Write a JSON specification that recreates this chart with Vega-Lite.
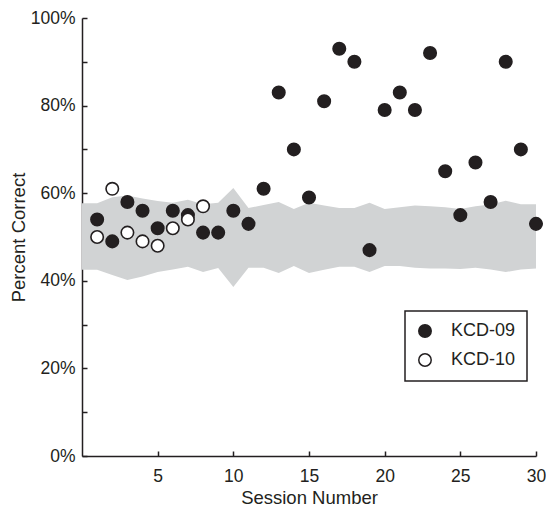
{
  "$schema": "https://vega.github.io/schema/vega-lite/v6.json",
  "width": 454,
  "height": 438,
  "autosize": {"type": "none"},
  "padding": {"left": 82, "top": 18, "right": 10, "bottom": 55},
  "config": {
    "view": {"stroke": null},
    "font": "Liberation Sans",
    "axis": {
      "grid": false,
      "domainColor": "#231f20",
      "tickColor": "#231f20",
      "domainWidth": 1.5,
      "tickWidth": 1.5,
      "tickSize": -5,
      "labelColor": "#231f20",
      "titleColor": "#231f20",
      "labelFontSize": 17.5,
      "titleFontSize": 18.5,
      "titleFontWeight": "normal",
      "labelFont": "Liberation Sans",
      "titleFont": "Liberation Sans"
    },
    "legend": {
      "orient": "none",
      "legendX": 323,
      "legendY": 293,
      "strokeColor": "#231f20",
      "strokeWidth": 1.5,
      "fillColor": "#ffffff",
      "padding": 11,
      "labelFontSize": 18,
      "labelFont": "Liberation Sans",
      "labelColor": "#231f20",
      "labelOffset": 17,
      "symbolSize": 155,
      "symbolType": "circle",
      "symbolStrokeColor": "#231f20",
      "symbolStrokeWidth": 1.5,
      "rowPadding": 9
    }
  },
  "datasets": {
    "band": [
      {"session": 0, "upper": 57.7, "lower": 42.5},
      {"session": 1, "upper": 57.7, "lower": 42.5},
      {"session": 2, "upper": 59.1, "lower": 41.3},
      {"session": 3, "upper": 59.5, "lower": 40.2},
      {"session": 4, "upper": 58.8, "lower": 41.0},
      {"session": 5, "upper": 58.2, "lower": 42.0},
      {"session": 6, "upper": 57.8, "lower": 42.6},
      {"session": 7, "upper": 58.5, "lower": 43.2},
      {"session": 8, "upper": 57.5, "lower": 42.0},
      {"session": 9, "upper": 57.8, "lower": 42.9},
      {"session": 10, "upper": 61.2, "lower": 38.6},
      {"session": 11, "upper": 56.6, "lower": 43.0},
      {"session": 12, "upper": 57.3, "lower": 43.0},
      {"session": 13, "upper": 58.0, "lower": 41.8},
      {"session": 14, "upper": 56.4, "lower": 43.4},
      {"session": 15, "upper": 57.8, "lower": 41.8},
      {"session": 16, "upper": 57.2, "lower": 42.5},
      {"session": 17, "upper": 56.6, "lower": 43.2},
      {"session": 18, "upper": 56.6, "lower": 43.2},
      {"session": 19, "upper": 57.8, "lower": 42.0},
      {"session": 20, "upper": 56.4, "lower": 43.4},
      {"session": 21, "upper": 56.8, "lower": 43.4},
      {"session": 22, "upper": 57.2, "lower": 43.0},
      {"session": 23, "upper": 57.0, "lower": 42.8},
      {"session": 24, "upper": 56.8, "lower": 42.8},
      {"session": 25, "upper": 56.4, "lower": 42.7},
      {"session": 26, "upper": 57.0, "lower": 43.0},
      {"session": 27, "upper": 57.4, "lower": 42.6},
      {"session": 28, "upper": 58.3, "lower": 42.0},
      {"session": 29, "upper": 57.5, "lower": 42.6},
      {"session": 30, "upper": 57.5, "lower": 42.8}
    ],
    "points": [
      {"subject": "KCD-09", "session": 1, "pct": 54},
      {"subject": "KCD-09", "session": 2, "pct": 49},
      {"subject": "KCD-09", "session": 3, "pct": 58},
      {"subject": "KCD-09", "session": 4, "pct": 56},
      {"subject": "KCD-09", "session": 5, "pct": 52},
      {"subject": "KCD-09", "session": 6, "pct": 56},
      {"subject": "KCD-09", "session": 7, "pct": 55},
      {"subject": "KCD-09", "session": 8, "pct": 51},
      {"subject": "KCD-09", "session": 9, "pct": 51},
      {"subject": "KCD-09", "session": 10, "pct": 56},
      {"subject": "KCD-09", "session": 11, "pct": 53},
      {"subject": "KCD-09", "session": 12, "pct": 61},
      {"subject": "KCD-09", "session": 13, "pct": 83},
      {"subject": "KCD-09", "session": 14, "pct": 70},
      {"subject": "KCD-09", "session": 15, "pct": 59},
      {"subject": "KCD-09", "session": 16, "pct": 81},
      {"subject": "KCD-09", "session": 17, "pct": 93},
      {"subject": "KCD-09", "session": 18, "pct": 90},
      {"subject": "KCD-09", "session": 19, "pct": 47},
      {"subject": "KCD-09", "session": 20, "pct": 79},
      {"subject": "KCD-09", "session": 21, "pct": 83},
      {"subject": "KCD-09", "session": 22, "pct": 79},
      {"subject": "KCD-09", "session": 23, "pct": 92},
      {"subject": "KCD-09", "session": 24, "pct": 65},
      {"subject": "KCD-09", "session": 25, "pct": 55},
      {"subject": "KCD-09", "session": 26, "pct": 67},
      {"subject": "KCD-09", "session": 27, "pct": 58},
      {"subject": "KCD-09", "session": 28, "pct": 90},
      {"subject": "KCD-09", "session": 29, "pct": 70},
      {"subject": "KCD-09", "session": 30, "pct": 53},
      {"subject": "KCD-10", "session": 1, "pct": 50},
      {"subject": "KCD-10", "session": 2, "pct": 61},
      {"subject": "KCD-10", "session": 3, "pct": 51},
      {"subject": "KCD-10", "session": 4, "pct": 49},
      {"subject": "KCD-10", "session": 5, "pct": 48},
      {"subject": "KCD-10", "session": 6, "pct": 52},
      {"subject": "KCD-10", "session": 7, "pct": 54},
      {"subject": "KCD-10", "session": 8, "pct": 57}
    ]
  },
  "layer": [
    {
      "data": {"name": "band"},
      "mark": {"type": "area", "color": "#d1d3d4", "opacity": 1},
      "encoding": {
        "x": {
          "field": "session",
          "type": "quantitative",
          "scale": {"domain": [0, 30], "nice": false, "zero": false},
          "axis": {
            "values": [5, 10, 15, 20, 25, 30],
            "title": "Session Number",
            "labelPadding": 16,
            "titleY": 41,
            "titleBaseline": "middle",
            "labelFlush": false
          }
        },
        "y": {
          "field": "upper",
          "type": "quantitative",
          "scale": {"domain": [0, 100], "nice": false},
          "axis": {
            "values": [0, 10, 20, 30, 40, 50, 60, 70, 80, 90, 100],
            "labelExpr": "datum.value % 20 === 0 ? datum.value + '%' : ''",
            "title": "Percent Correct",
            "labelPadding": 12,
            "titleX": -64,
            "titleY": 219,
            "titleAngle": -90,
            "titleAlign": "center",
            "titleBaseline": "middle"
          }
        },
        "y2": {"field": "lower"}
      }
    },
    {
      "data": {"name": "points"},
      "mark": {"type": "circle", "stroke": "#231f20", "strokeWidth": 1.6, "size": 155, "opacity": 1},
      "encoding": {
        "x": {"field": "session", "type": "quantitative"},
        "y": {"field": "pct", "type": "quantitative"},
        "fill": {
          "field": "subject",
          "type": "nominal",
          "scale": {"domain": ["KCD-09", "KCD-10"], "range": ["#231f20", "#ffffff"]},
          "legend": {"title": null}
        }
      }
    }
  ]
}
